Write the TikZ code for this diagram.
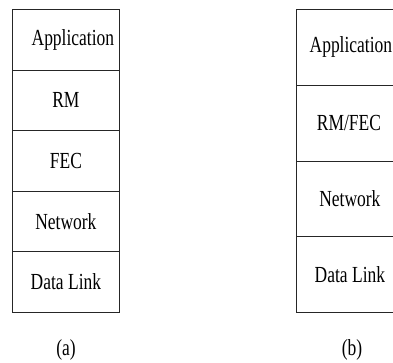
\documentclass[tikz,border=0pt]{standalone}
\usepackage{fontspec}
\setmainfont[FakeStretch=0.76]{Liberation Serif}
\begin{document}
\begin{tikzpicture}[x=1pt,y=-1pt,
  layer/.style={draw=black!85, line width=0.8pt, rectangle, minimum width=107pt,
    inner sep=0pt, anchor=north west},
  lbl/.style={font=\fontsize{23}{26}\selectfont}]
\useasboundingbox (0,0) rectangle (393,362);
\clip (0,0) rectangle (393,362);
% (a): five-layer stack
\foreach \i/\t/\dx in {0/Application/7,1/RM/0,2/FEC/0,3/Network/0,4/Data Link/0}{
  \node[layer, minimum height=60.6pt] (a\i) at (12,{9+60.6*\i}) {};
  \node[lbl] (at\i) at ([xshift=\dx pt]a\i.center) {\t};
}
% (b): four-layer stack, running past the right edge
\node[layer, minimum height=75.75pt] (b0) at (296,9) {};
\node[layer, minimum height=75.75pt] (b1) at (296,84.75) {};
\node[layer, minimum height=75.75pt] (b2) at (296,160.5) {};
\node[layer, minimum height=75.75pt] (b3) at (296,236.25) {};
\node[lbl] (bt0) at ([xshift=1pt]b0.center) {Application};
\node[lbl] (bt1) at ([xshift=-1pt]b1.center) {RM/FEC};
\node[lbl] (bt2) at (b2.center) {Network};
\node[lbl] (bt3) at (b3.center) {Data Link};
% captions
\node[lbl] (la) at (66,350) {(a)};
\node[lbl] (lb) at (352,350) {(b)};
\end{tikzpicture}
\end{document}
